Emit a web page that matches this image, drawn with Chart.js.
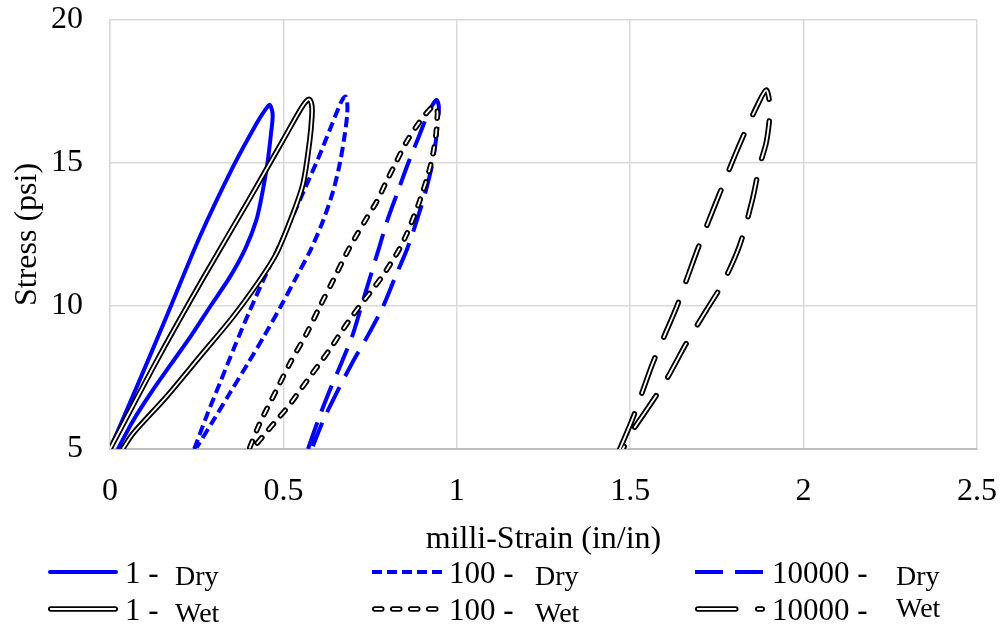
<!DOCTYPE html>
<html>
<head>
<meta charset="utf-8">
<script src="https://cdn.jsdelivr.net/npm/chart.js@4.4.1/dist/chart.umd.min.js"></script>
<style>
  html, body { margin: 0; padding: 0; background: #fff; }
</style>
</head>
<body>
<canvas id="chart" width="1000" height="628"></canvas>
<script>
// axis ticks
const xTicks = [0, 0.5, 1, 1.5, 2, 2.5];
const yTicks = [5, 10, 15, 20];

// series labels (legend)
const cycleLabels = ['1 -', '100 -', '10000 -', '1 -', '100 -', '10000 -'];
const condLabels = ['Dry', 'Dry', 'Dry', 'Wet', 'Wet', 'Wet'];

// 1 cycle - dry (up the left branch, back down the right one)
const dry1Strain = [0, 0.08, 0.163, 0.259, 0.355, 0.423, 0.45, 0.461, 0.469, 0.464, 0.454, 0.44, 0.422, 0.39, 0.345, 0.29, 0.236, 0.178, 0.12, 0.067, 0.024];
const dry1Stress = [5.0, 7.25, 9.63, 12.42, 14.87, 16.39, 16.9, 17.03, 16.7, 16.0, 15.0, 14.0, 13.0, 12.0, 11.0, 10.0, 9.0, 8.0, 7.0, 6.0, 5.03];

// 100 cycles - dry
const dry100Strain = [0.243, 0.28, 0.32, 0.36, 0.40, 0.44, 0.48, 0.52, 0.56, 0.60, 0.635, 0.66, 0.672, 0.68, 0.684, 0.684, 0.677, 0.663, 0.643, 0.615, 0.58, 0.537, 0.493, 0.447, 0.398, 0.348, 0.298, 0.25];
const dry100Stress = [5.0, 6.2, 7.4, 8.6, 9.75, 10.85, 11.9, 12.95, 14.05, 15.15, 16.2, 16.95, 17.25, 17.32, 17.1, 16.7, 16.0, 15.0, 14.0, 13.0, 12.0, 11.0, 10.0, 9.0, 8.0, 7.0, 6.0, 5.05];

// 10000 cycles - dry
const dry10kStrain = [0.571, 0.60, 0.632, 0.667, 0.70, 0.725, 0.75, 0.775, 0.80, 0.83, 0.86, 0.893, 0.92, 0.941, 0.948, 0.947, 0.942, 0.93, 0.91, 0.885, 0.857, 0.822, 0.788, 0.745, 0.698, 0.655, 0.615, 0.585];
const dry10kStress = [5.0, 6.0, 7.0, 8.0, 9.0, 10.0, 11.0, 12.0, 13.0, 14.0, 15.0, 16.0, 16.8, 17.2, 17.0, 16.6, 16.0, 15.0, 14.0, 13.0, 12.0, 11.0, 10.0, 9.0, 8.0, 7.0, 6.0, 5.1];

// 1 cycle - wet
const wet1Strain = [0, 0.14, 0.27, 0.40, 0.499, 0.548, 0.565, 0.575, 0.582, 0.582, 0.576, 0.557, 0.528, 0.480, 0.432, 0.355, 0.259, 0.163, 0.067, 0.038];
const wet1Stress = [5.0, 8.2, 11.0, 13.7, 15.8, 16.85, 17.15, 17.22, 17.0, 16.6, 15.8, 14.29, 13.24, 11.84, 10.91, 9.63, 8.23, 6.83, 5.55, 5.03];

// 100 cycles - wet
const wet100Strain = [0.403, 0.432, 0.48, 0.519, 0.567, 0.605, 0.644, 0.682, 0.706, 0.74, 0.769, 0.797, 0.826, 0.855, 0.893, 0.92, 0.935, 0.944, 0.943, 0.94, 0.934, 0.926, 0.915, 0.902, 0.888, 0.872, 0.855, 0.835, 0.81, 0.783, 0.752, 0.72, 0.69, 0.662, 0.635, 0.605, 0.575, 0.545, 0.515, 0.48, 0.445, 0.41];
const wet100Stress = [5.05, 5.9, 7.06, 8.0, 9.04, 9.98, 10.91, 11.84, 12.37, 13.07, 13.65, 14.35, 15.05, 15.74, 16.44, 16.85, 17.0, 16.8, 16.5, 16.0, 15.5, 15.0, 14.5, 14.0, 13.5, 13.0, 12.5, 12.0, 11.5, 11.0, 10.5, 10.0, 9.5, 9.0, 8.5, 8.0, 7.5, 7.0, 6.5, 6.0, 5.5, 5.0];

// 10000 cycles - wet
const wet10kStrain = [1.470, 1.505, 1.535, 1.565, 1.600, 1.635, 1.665, 1.695, 1.727, 1.76, 1.793, 1.828, 1.866, 1.892, 1.902, 1.902, 1.892, 1.873, 1.852, 1.815, 1.767, 1.72, 1.662, 1.603, 1.547, 1.508, 1.479];
const wet10kStress = [5.0, 6.0, 7.0, 8.0, 9.0, 10.0, 11.0, 12.0, 13.0, 14.0, 15.0, 16.0, 17.0, 17.55, 17.1, 16.6, 15.7, 14.9, 13.7, 12.1, 10.8, 9.86, 8.7, 7.4, 6.36, 5.66, 5.0];

const strainSets = [dry1Strain, dry100Strain, dry10kStrain, wet1Strain, wet100Strain, wet10kStrain];
const stressSets = [dry1Stress, dry100Stress, dry10kStress, wet1Stress, wet100Stress, wet10kStress];

// line styles, same order as the series
const styles = [
  { color: '#0000ff', width: 4, dash: [], cap: 'round' },
  { color: '#0000ff', width: 4, dash: [10, 5], cap: 'butt' },
  { color: '#0000ff', width: 4, dash: [28, 12], cap: 'butt' },
  { color: '#000000', width: 5.5, dash: [], cap: 'round', double: true },
  { color: '#000000', width: 5.5, dash: [7, 11], cap: 'round', double: true },
  { color: '#000000', width: 5.5, dash: [38, 22], cap: 'round', double: true }
];

// "double" line = thick black stroke with a thin white stroke on top
function strokesFor(st) {
  const list = [{ color: st.color, width: st.width, dash: st.dash, cap: st.cap }];
  if (st.double) list.push({ color: '#ffffff', width: 1.8, dash: st.dash, cap: st.cap });
  return list;
}

const datasets = [];
strainSets.forEach((xs, i) => {
  const pts = xs.map((x, k) => ({ x: x, y: stressSets[i][k] }));
  strokesFor(styles[i]).forEach(s => {
    datasets.push({
      label: cycleLabels[i] + ' ' + condLabels[i],
      data: pts,
      showLine: true,
      borderColor: s.color,
      borderWidth: s.width,
      borderDash: s.dash,
      borderCapStyle: s.cap,
      borderJoinStyle: 'round',
      pointRadius: 0,
      tension: 0.3,
      fill: false
    });
  });
});
// later datasets on top
datasets.forEach((d, i) => { d.order = datasets.length - i; });

const serif = "'Liberation Serif', 'Times New Roman', serif";

const legendPlugin = {
  id: 'bottomLegend',
  afterDraw(chart) {
    const ctx = chart.ctx;
    const colX = [48, 372, 695];
    const condX = [175, 535, 896];
    const rowY = [572, 609];
    const rowBase = [583, 620];
    styles.forEach((st, i) => {
      const col = i % 3, row = Math.floor(i / 3);
      const x0 = colX[col], y = rowY[row];
      ctx.save();
      strokesFor(st).forEach(s => {
        ctx.beginPath();
        ctx.setLineDash(s.dash);
        ctx.lineCap = s.cap;
        ctx.lineWidth = s.width;
        ctx.strokeStyle = s.color;
        const pad = s.cap === 'round' ? st.width / 2 : 0;
        ctx.moveTo(x0 + pad, y);
        ctx.lineTo(x0 + 70 - pad, y);
        ctx.stroke();
      });
      ctx.setLineDash([]);
      ctx.fillStyle = '#000';
      ctx.textBaseline = 'alphabetic';
      ctx.textAlign = 'left';
      ctx.font = '31px ' + serif;
      ctx.fillText(cycleLabels[i], x0 + 77, rowBase[row]);
      ctx.font = '28px ' + serif;
      const condBase = (col === 2 && row === 1) ? rowBase[row] - 3 : rowBase[row] + 2;
      ctx.fillText(condLabels[i], condX[col], condBase);
      ctx.restore();
    });
  }
};

new Chart(document.getElementById('chart'), {
  type: 'scatter',
  data: { datasets: datasets },
  options: {
    responsive: false,
    animation: false,
    devicePixelRatio: 1,
    layout: { padding: { top: 20, right: 23, bottom: 65, left: 0 } },
    plugins: { legend: { display: false }, tooltip: { enabled: false } },
    scales: {
      x: {
        type: 'linear',
        min: 0,
        max: 2.5,
        afterBuildTicks: s => { s.ticks = xTicks.map(v => ({ value: v })); },
        afterFit: s => { s.height = 114; s.paddingLeft = 0; s.paddingRight = 0; },
        ticks: { color: '#000', font: { family: serif, size: 32 }, padding: 23, callback: v => String(v) },
        grid: { color: '#d9d9d9', lineWidth: 1.5, drawTicks: false },
        border: { color: '#bfbfbf', width: 2 },
        title: { display: true, text: 'milli-Strain (in/in)', color: '#000', font: { family: serif, size: 32 }, padding: { top: 4, bottom: 4 } }
      },
      y: {
        type: 'linear',
        min: 5,
        max: 20,
        afterBuildTicks: s => { s.ticks = yTicks.map(v => ({ value: v })); },
        afterFit: s => { s.width = 110; s.paddingTop = 0; s.paddingBottom = 0; },
        ticks: { color: '#000', font: { family: serif, size: 32 }, padding: 27, callback: v => String(v) },
        grid: { color: '#d9d9d9', lineWidth: 1.5, drawTicks: false },
        border: { color: '#d9d9d9', width: 1.5 },
        title: { display: true, text: 'Stress (psi)', color: '#000', font: { family: serif, size: 32 }, padding: { top: 8, bottom: 0 } }
      }
    }
  },
  plugins: [legendPlugin]
});
</script>
</body>
</html>
